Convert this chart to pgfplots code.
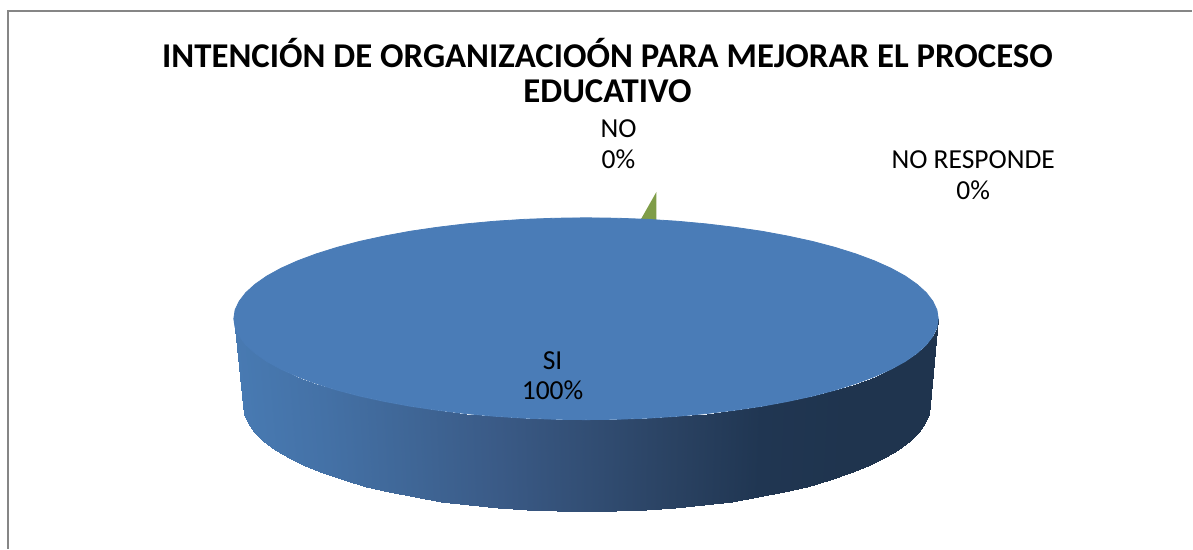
\documentclass[border=0pt]{standalone}
\usepackage{pgfplots}
\usepackage{fontspec}
\setmainfont{Carlito}
\pgfplotsset{compat=1.18}
\definecolor{pietop}{RGB}{74,124,183}
\definecolor{piegreen}{RGB}{127,157,72}
\definecolor{framegray}{RGB}{134,134,134}
\begin{document}
\begin{tikzpicture}
\begin{axis}[
  scale only axis, width=1193bp, height=549bp,
  xmin=0, xmax=1193, ymin=0, ymax=549, y dir=reverse,
  hide axis, clip=false,
  colormap={side}{rgb255=(72,122,178) rgb255=(68,113,166) rgb255=(63,102,150) rgb255=(58,90,134) rgb255=(50,78,116) rgb255=(42,66,98) rgb255=(32,54,82) rgb255=(31,52,78) rgb255=(31,52,78)},
  point meta min=234, point meta max=939,
]
% invisible extent of the canvas
\addplot[draw=none, forget plot] coordinates {(0,0) (1193,549)};
% chart frame
\addplot[framegray, line width=2pt, forget plot] coordinates {(8,549) (8,11) (1193,11)};
% slice NO (0%)
\addplot[fill=piegreen, draw=none, forget plot] coordinates {(640,222) (657,192) (657,222)} -- cycle;
% side wall of slice SI (100%): top edge, then bottom edge
\addplot[surf, shader=interp, mesh/rows=2, point meta=explicit, forget plot] table[meta=c] {
x y c
234.0 319.0 234
235.3 327.8 235
239.4 336.5 239
246.0 345.1 246
255.3 353.5 255
267.0 361.7 267
281.2 369.5 281
297.7 376.9 298
316.5 383.9 316
337.2 390.4 337
359.9 396.4 360
384.3 401.7 384
410.2 406.5 410
437.5 410.5 437
465.9 413.9 466
495.3 416.6 495
525.3 418.5 525
555.8 419.6 556
586.5 420.0 586
617.2 419.6 617
647.7 418.5 648
677.7 416.6 678
707.1 413.9 707
735.5 410.5 736
762.8 406.5 763
788.7 401.7 789
813.1 396.4 813
835.8 390.4 836
856.5 383.9 856
875.3 376.9 875
891.8 369.5 892
906.0 361.7 906
917.7 353.5 918
927.0 345.1 927
933.6 336.5 934
937.7 327.8 938
939.0 319.0 939
243.0 405.0 234
244.3 414.3 235
248.2 423.6 239
254.7 432.7 246
263.7 441.6 255
275.2 450.2 267
289.1 458.5 281
305.2 466.4 298
323.5 473.8 316
343.8 480.7 337
365.9 487.0 360
389.7 492.7 384
415.0 497.7 410
441.6 502.0 437
469.4 505.5 466
498.0 508.4 495
527.3 510.4 525
557.0 511.6 556
587.0 512.0 586
617.0 511.6 617
646.7 510.4 648
676.0 508.4 678
704.6 505.5 707
732.4 502.0 736
759.0 497.7 763
784.3 492.7 789
808.1 487.0 813
830.2 480.7 836
850.5 473.8 856
868.8 466.4 875
884.9 458.5 892
898.8 450.2 906
910.3 441.6 918
919.3 432.7 927
925.8 423.6 934
929.7 414.3 938
931.0 405.0 939
};
% top of slice SI (100%)
\addplot[fill=pietop, draw=pietop, line width=0.8pt, forget plot] table {
x y
234.0 319.0
235.3 310.2
239.4 301.5
246.0 292.9
255.3 284.5
267.0 276.3
281.2 268.5
297.7 261.1
316.5 254.1
337.2 247.6
359.9 241.6
384.3 236.3
410.2 231.5
437.5 227.5
465.9 224.1
495.3 221.4
525.3 219.5
555.8 218.4
586.5 218.0
617.2 218.4
647.7 219.5
677.7 221.4
707.1 224.1
735.5 227.5
762.8 231.5
788.7 236.3
813.1 241.6
835.8 247.6
856.5 254.1
875.3 261.1
891.8 268.5
906.0 276.3
917.7 284.5
927.0 292.9
933.6 301.5
937.7 310.2
939.0 319.0
937.7 327.8
933.6 336.5
927.0 345.1
917.7 353.5
906.0 361.7
891.8 369.5
875.3 376.9
856.5 383.9
835.8 390.4
813.1 396.4
788.7 401.7
762.8 406.5
735.5 410.5
707.1 413.9
677.7 416.6
647.7 418.5
617.2 419.6
586.5 420.0
555.8 419.6
525.3 418.5
495.3 416.6
465.9 413.9
437.5 410.5
410.2 406.5
384.3 401.7
359.9 396.4
337.2 390.4
316.5 383.9
297.7 376.9
281.2 369.5
267.0 361.7
255.3 353.5
246.0 345.1
239.4 336.5
235.3 327.8
234.0 319.0
} -- cycle;
% title and labels
\node[font=\fontsize{34.8bp}{35bp}\selectfont\bfseries, align=center, text=black] at (axis cs:608,71)
  {INTENCIÓN DE ORGANIZACIOÓN PARA MEJORAR EL PROCESO\\EDUCATIVO};
\node[font=\fontsize{27.5bp}{31bp}\selectfont, align=center, text=black] at (axis cs:619,144) {NO\\0\%};
\node[font=\fontsize{27.5bp}{31bp}\selectfont, align=center, text=black] at (axis cs:974,175) {NO RESPONDE\\0\%};
\node[font=\fontsize{27.5bp}{31bp}\selectfont, align=center, text=black] at (axis cs:553,376) {SI\\100\%};
\end{axis}
\end{tikzpicture}
\end{document}
